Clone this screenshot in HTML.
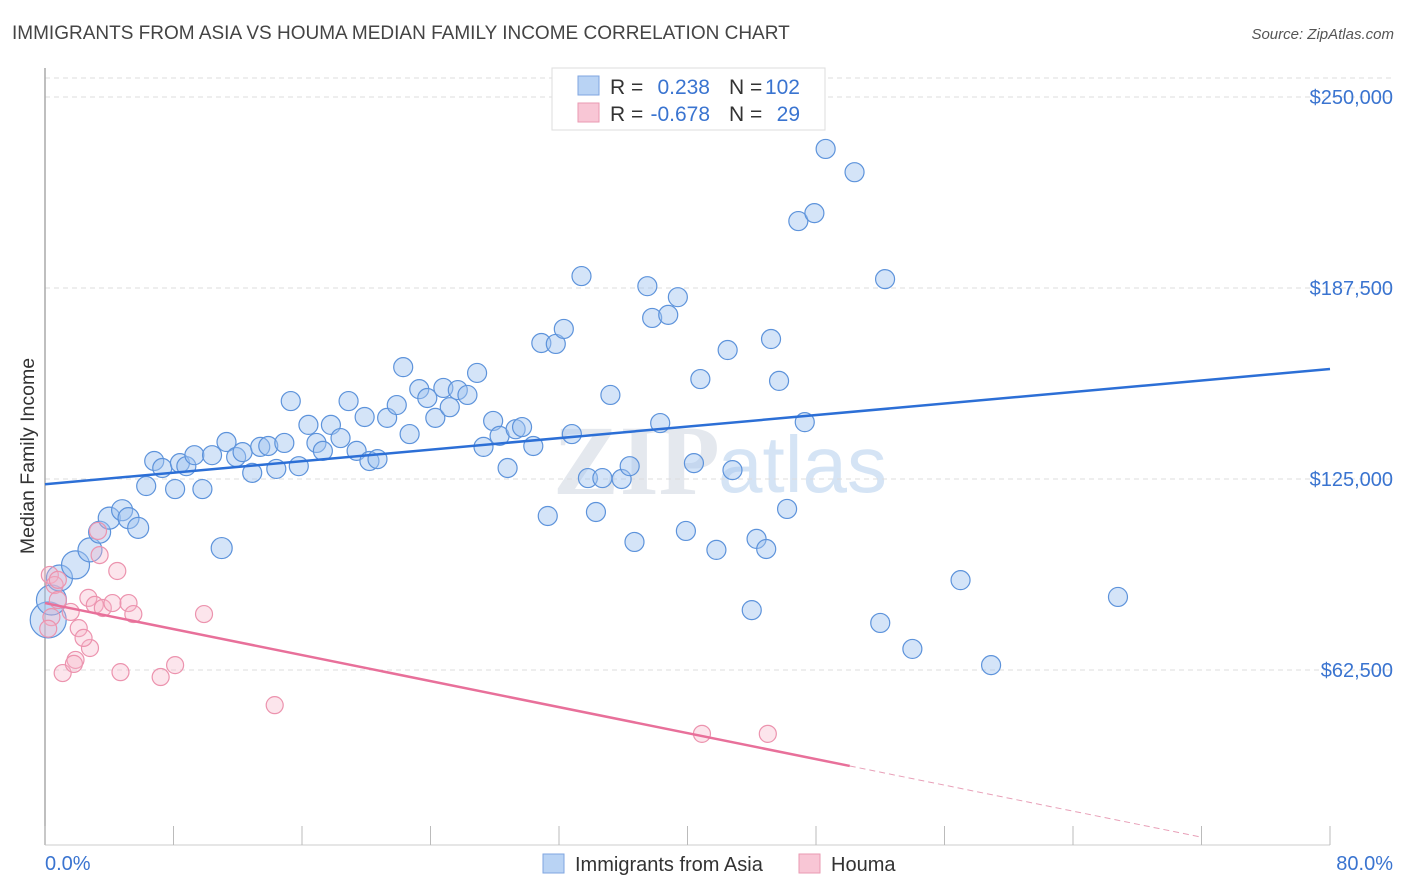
<!DOCTYPE html>
<html><head><meta charset="utf-8"><style>
body{margin:0;background:#fff;font-family:"Liberation Sans",sans-serif;}
svg{display:block}
</style></head><body>
<svg id="chart" width="1406" height="892" xmlns="http://www.w3.org/2000/svg">
<text x="12" y="39" font-size="19" fill="#444">IMMIGRANTS FROM ASIA VS HOUMA MEDIAN FAMILY INCOME CORRELATION CHART</text>
<text x="1394" y="39" font-size="15" fill="#555" text-anchor="end" font-style="italic">Source: ZipAtlas.com</text>
<text x="553" y="494" font-size="100" fill="#e4e8ee" font-family="Liberation Serif,serif" font-weight="bold">ZIP</text>
<text x="718" y="492" font-size="80" fill="#d5e4f5">atlas</text>
<g id="grid"></g>
<line x1="45" y1="68" x2="45" y2="845" stroke="#aaa" stroke-width="1.5"/>
<line x1="45" y1="845" x2="1330" y2="845" stroke="#ccc"/>
<g id="xticks"></g>
<text transform="translate(34,456) rotate(-90)" font-size="19.5" fill="#333" text-anchor="middle">Median Family Income</text>
<text x="45" y="870" font-size="20" fill="#3a74d0">0.0%</text>
<text x="1393" y="870" font-size="20" fill="#3a74d0" text-anchor="end">80.0%</text>
<g id="pts"></g>
<g id="lines"></g>
<g>
<rect x="552" y="68" width="273" height="62" fill="#fff" stroke="#ddd"/>
<rect x="578" y="76" width="21" height="19" fill="#b9d3f4" stroke="#7fa6e0"/>
<rect x="578" y="103" width="21" height="19" fill="#f8c6d5" stroke="#ea9ab2"/>
<text x="610" y="94" font-size="21" fill="#333">R = </text><text x="710" y="94" font-size="21" fill="#3a74d0" text-anchor="end">0.238</text>
<text x="729" y="94" font-size="21" fill="#333">N = </text><text x="800" y="94" font-size="21" fill="#3a74d0" text-anchor="end">102</text>
<text x="610" y="121" font-size="21" fill="#333">R = </text><text x="710" y="121" font-size="21" fill="#3a74d0" text-anchor="end">-0.678</text>
<text x="729" y="121" font-size="21" fill="#333">N = </text><text x="800" y="121" font-size="21" fill="#3a74d0" text-anchor="end">29</text>
</g>
<g>
<rect x="543" y="854" width="21" height="19" fill="#b9d3f4" stroke="#7fa6e0"/>
<text x="575" y="871" font-size="20" fill="#333">Immigrants from Asia</text>
<rect x="799" y="854" width="21" height="19" fill="#f8c6d5" stroke="#ea9ab2"/>
<text x="831" y="871" font-size="20" fill="#333">Houma</text>
</g>
</svg>
<script>
const yTicks=[62500,125000,187500,250000];
const yTickLabels=["$62,500","$125,000","$187,500","$250,000"];
const blueX=[0.2,0.4,0.9,1.9,2.8,3.4,4.0,4.8,5.2,5.8,11.0,6.3,6.8,7.3,8.1,8.4,8.8,9.3,9.8,10.4,11.3,11.9,12.3,12.9,13.4,13.9,14.4,14.9,15.3,15.8,16.4,16.9,17.3,17.8,18.4,18.9,19.4,19.9,20.2,20.7,21.3,21.9,22.3,22.7,23.3,23.8,24.3,24.8,25.2,25.7,26.3,26.9,27.3,27.9,28.3,28.8,29.3,29.7,30.4,30.9,31.3,31.8,32.3,32.8,33.4,33.8,34.3,34.7,35.2,35.9,36.4,36.7,37.5,37.8,38.3,38.8,39.4,39.9,40.4,40.8,41.8,42.5,42.8,44.0,44.3,44.9,45.2,45.7,46.2,46.9,47.3,47.9,48.6,50.4,52.0,52.3,54.0,57.0,58.9,66.8];
const blueY=[78.9,85.4,92.6,96.9,101.8,107.6,112.2,114.8,112.2,109.0,102.4,122.7,130.9,128.6,121.7,130.2,129.2,132.8,121.7,132.8,137.1,132.2,133.8,127.0,135.5,135.8,128.3,136.8,150.5,129.2,142.7,136.8,134.2,142.7,138.4,150.5,134.2,145.3,130.9,131.5,145.0,149.2,161.6,139.7,154.4,151.5,145.0,154.8,148.5,154.1,152.5,159.7,135.5,144.0,139.1,128.6,141.3,142.0,135.8,169.5,112.9,169.2,174.1,139.7,191.4,125.3,114.2,125.3,152.5,125.0,129.2,104.4,188.1,177.7,143.3,178.7,184.5,108.0,130.2,157.7,101.8,167.2,127.9,82.1,105.4,102.1,170.8,157.1,115.2,209.4,143.6,212.0,233.0,225.4,77.9,190.4,69.4,91.9,64.1,86.4];
const blueSize=[18,15,13,14,12,11,11,10.5,10.5,10.5,10.5];
const pinkX=[0.3,0.6,0.4,0.8,1.1,1.6,1.9,2.1,2.7,2.8,3.1,3.4,3.3,4.5,3.6,4.2,5.2,5.5,4.7,7.2,8.1,9.9,14.3,40.9,45.0,0.8,0.2,1.8,2.4];
const pinkY=[93.6,90.3,79.8,85.4,61.5,81.5,65.8,76.2,86.1,69.7,83.8,100.1,108.0,94.9,82.8,84.4,84.4,80.8,61.8,60.2,64.1,80.8,51.0,41.6,41.6,92.0,76.0,64.5,73.0];
const blueTrend=[0,80,123.3,161.0];
const pinkTrend=[0,50.1,84.4,31.1,72,-6];
const xp=v=>45+v/80*1285;
const yp=v=>861-v*1000/62500*191;
const NS="http://www.w3.org/2000/svg";
function mk(parent,tag,attrs){const e=document.createElementNS(NS,tag);for(const k in attrs)e.setAttribute(k,attrs[k]);document.getElementById(parent).appendChild(e);return e;}
yTicks.forEach((t,i)=>{
  const y=861-t/62500*191;
  const l=mk('grid','line',{x1:45,x2:1393,y1:y,y2:y,stroke:'#ddd','stroke-dasharray':'5,4'});
  
  
  const tx=mk('grid','text',{x:1393,y:y+7,'font-size':20,fill:'#3a74d0','text-anchor':'end'});
  tx.textContent=yTickLabels[i];
  
  
});
mk('grid','line',{x1:45,x2:1393,y1:78,y2:78,stroke:'#ddd','stroke-dasharray':'5,4'});
for(let i=0;i<=10;i++){
  const x=xp(i*8);
  const t=mk('xticks','line',{x1:x,x2:x,y1:826,y2:845,stroke:'#bbb'});
  
  
}
blueX.forEach((v,i)=>{
  const c=mk('pts','circle',{cx:xp(v),cy:yp(blueY[i]),r:blueSize[i]||9.5,fill:'rgba(160,196,240,0.45)',stroke:'#5d93db','stroke-width':1.2});
  
  
});
pinkX.forEach((v,i)=>{
  const c=mk('pts','circle',{cx:xp(v),cy:yp(pinkY[i]),r:8.5,fill:'rgba(246,180,200,0.35)',stroke:'#ec93ae','stroke-width':1.2});
  
  
});
const bl=mk('lines','line',{x1:xp(blueTrend[0]),y1:yp(blueTrend[2]),x2:xp(blueTrend[1]),y2:yp(blueTrend[3]),stroke:'#2c6fd6','stroke-width':2.5});


const slope=(pinkTrend[3]-pinkTrend[2])/(pinkTrend[1]-pinkTrend[0]);
const pl=mk('lines','line',{x1:xp(0),y1:yp(pinkTrend[2]),x2:xp(pinkTrend[1]),y2:yp(pinkTrend[3]),stroke:'#e8709a','stroke-width':2.5});


const pd=mk('lines','line',{x1:xp(pinkTrend[1]),y1:yp(pinkTrend[3]),x2:xp(pinkTrend[4]),y2:yp(pinkTrend[2]+slope*pinkTrend[4]),stroke:'#e8a0b8','stroke-width':1,'stroke-dasharray':'6,4'});


</script>
</body></html>
